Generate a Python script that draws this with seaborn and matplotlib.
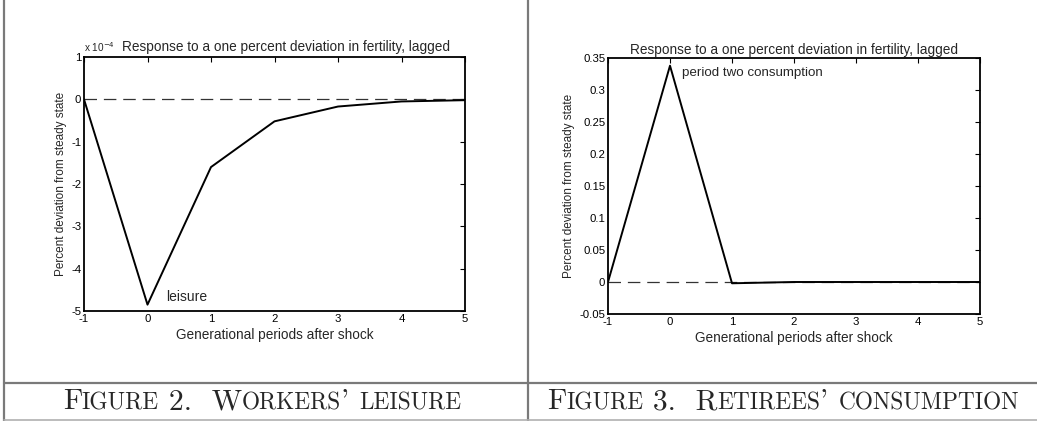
import numpy as np
import matplotlib
matplotlib.use("Agg")
import matplotlib.pyplot as plt
from matplotlib.lines import Line2D
import seaborn as sns
import pandas as pd

# ---------- datos ----------
periods = [-1, 0, 1, 2, 3, 4, 5]
leisure = [0.0, -4.85, -1.60, -0.52, -0.17, -0.05, -0.02]        # x 1e-4
consumption = [0.0, 0.338, -0.002, 0.0, 0.0, 0.0, 0.0]

left_yticks = [-5, -4, -3, -2, -1, 0, 1]
right_yticks = [-0.05, 0, 0.05, 0.1, 0.15, 0.2, 0.25, 0.3, 0.35]
right_ylabels = ["-0.05", "0", "0.05", "0.1", "0.15", "0.2", "0.25", "0.3", "0.35"]

TITLE = "Response to a one percent deviation in fertility, lagged"
XLAB = "Generational periods after shock"
YLAB = "Percent deviation from steady state"

sns.set_style("white")
plt.rcParams["font.family"] = ["Liberation Sans", "DejaVu Sans"]
plt.rcParams["axes.unicode_minus"] = False

W, H = 1037, 421
fig = plt.figure(figsize=(W / 100, H / 100), dpi=100)


def px_axes(x0, x1, y0, y1):
    return fig.add_axes([x0 / W, 1 - y1 / H, (x1 - x0) / W, (y1 - y0) / H])


def style_axes(ax):
    for s in ax.spines.values():
        s.set_linewidth(1.3)
        s.set_color("black")
    ax.tick_params(direction="in", top=True, right=True, length=3.5,
                   width=0.8, labelsize=8.2, pad=2, colors="black")
    ax.set_xlim(-1, 5)
    ax.set_xticks(periods)
    ax.set_xlabel(XLAB, fontsize=9.8, labelpad=3)
    ax.set_ylabel(YLAB, fontsize=8.5, labelpad=3)
    ax.axhline(0, color="#333333", lw=0.9, ls=(0, (10, 5.5)), zorder=1)


# ---------- panel izquierdo ----------
ax1 = px_axes(84, 465, 57, 311)
df1 = pd.DataFrame({"period": periods, "value": leisure})
sns.lineplot(data=df1, x="period", y="value", ax=ax1, color="black", lw=1.4, zorder=3)
style_axes(ax1)
ax1.set_ylim(-5, 1)
ax1.set_yticks(left_yticks)
ax1.text(0.53, 1.01, TITLE, transform=ax1.transAxes, ha="center", va="bottom", fontsize=9.8)
ax1.text(0.0, 1.01, r"x 10$^{-4}$", transform=ax1.transAxes, ha="left", va="bottom", fontsize=7.2)
ax1.text(0.29, -4.67, "leisure", fontsize=10, va="center")

# ---------- panel derecho ----------
ax2 = px_axes(608, 980, 58, 314)
df2 = pd.DataFrame({"period": periods, "value": consumption})
sns.lineplot(data=df2, x="period", y="value", ax=ax2, color="black", lw=1.4, zorder=3)
style_axes(ax2)
ax2.set_ylim(-0.05, 0.35)
ax2.set_yticks(right_yticks)
ax2.set_yticklabels(right_ylabels)
ax2.set_title(TITLE, fontsize=9.8, pad=3)
ax2.text(0.19, 0.327, "period two consumption", fontsize=9.6, va="center")

# ---------- bordes de la tabla ----------
grey = "#7a7a7a"
def fig_line(xs, ys, color=grey, lw=1.6):
    fig.add_artist(Line2D([x / W for x in xs], [1 - y / H for y in ys],
                          color=color, lw=lw, transform=fig.transFigure))

fig_line([4, 4], [0, 421])
fig_line([528, 528], [0, 421])
fig_line([4, 1037], [383, 383])
fig_line([4, 1037], [420, 420], color="#b0b0b0", lw=1.2)

# ---------- pies de figura en versalitas ----------
renderer = fig.canvas.get_renderer()
BIG, SMALL = 21.3, 16.8


def small_caps(text, cx, baseline_px):
    segs = []
    for ch in text:
        big = not ch.islower()
        if segs and segs[-1][1] == big:
            segs[-1][0] += ch.upper()
        else:
            segs.append([ch.upper(), big])
    arts = []
    for s, big in segs:
        t = fig.text(0, 1 - baseline_px / H, s, fontsize=BIG if big else SMALL,
                     family="cmr10", va="baseline", ha="left")
        arts.append(t)
    widths = [a.get_window_extent(renderer).width for a in arts]
    x = cx - sum(widths) / 2
    for a, w in zip(arts, widths):
        a.set_x(x / W)
        x += w


small_caps("Figure 2.  Workers' leisure", 262, 409)
small_caps("Figure 3.  Retirees' consumption", 783, 409)

fig.savefig("out.png", dpi=100)
